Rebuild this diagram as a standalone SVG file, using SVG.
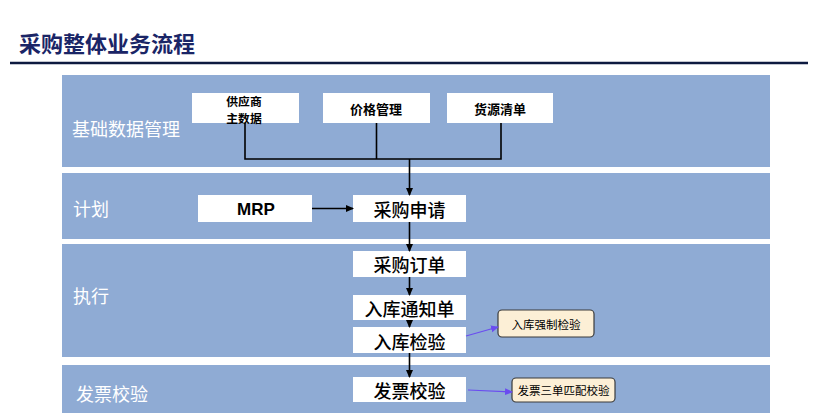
<svg xmlns="http://www.w3.org/2000/svg" width="830" height="420" viewBox="0 0 830 420">
<style>
.band{fill:#8FABD4}
.lbl{font-family:"Noto Sans CJK SC","Noto Sans",sans-serif;font-size:18px;fill:#ffffff}
.box{fill:#ffffff}
.bt{font-family:"Noto Sans CJK SC","Noto Sans",sans-serif;font-size:18px;fill:#000;font-weight:500;text-anchor:middle;dominant-baseline:central}
.st{font-family:"Noto Sans CJK SC","Noto Sans",sans-serif;font-size:13px;fill:#000;font-weight:bold;text-anchor:middle;dominant-baseline:central}
.call{fill:#FCEFD6;stroke:#3a3a3a;stroke-width:1.2}
.ct{font-family:"Noto Sans CJK SC","Noto Sans",sans-serif;font-size:11.5px;fill:#000;text-anchor:middle;dominant-baseline:central}
.ln{fill:none;stroke:#000;stroke-width:1.6}
.pl{fill:none;stroke:#6A4CF0;stroke-width:1.2}
</style>
<defs>
<marker id="ah" markerWidth="8" markerHeight="8" refX="7" refY="4" orient="auto" markerUnits="userSpaceOnUse"><path d="M0,0.5 L8,4 L0,7.5 Z" fill="#000"/></marker>
<marker id="ap" markerWidth="8" markerHeight="8" refX="7" refY="4" orient="auto" markerUnits="userSpaceOnUse"><path d="M0,0.5 L8,4 L0,7.5 Z" fill="#6A4CF0"/></marker>
</defs>
<rect width="830" height="420" fill="#ffffff"/>
<text x="19" y="52" font-family="'Noto Sans CJK SC','Noto Sans',sans-serif" font-size="22" font-weight="bold" fill="#1A2566">采购整体业务流程</text>
<line x1="10" y1="63" x2="808" y2="63" stroke="#0D1A40" stroke-width="2.5"/>

<g id="lanes">
<rect class="band" x="62" y="75" width="708" height="92"/>
<rect class="band" x="62" y="173" width="708" height="66"/>
<rect class="band" x="62" y="244" width="708" height="113"/>
<rect class="band" x="62" y="365" width="708" height="48"/>
<text class="lbl" x="72" y="128" dominant-baseline="central">基础数据管理</text>
<text class="lbl" x="73" y="208" dominant-baseline="central">计划</text>
<text class="lbl" x="73" y="295" dominant-baseline="central">执行</text>
<text class="lbl" x="76" y="393" dominant-baseline="central">发票校验</text>
</g>

<g id="supplier">
<rect class="box" x="192" y="93" width="107" height="30"/>
<text class="st" x="244" y="100" style="font-size:11.8px">供应商<tspan x="244" dy="17">主数据</tspan></text>
</g>
<g id="price">
<rect class="box" x="323" y="93" width="107" height="30"/>
<text class="st" x="376" y="108">价格管理</text>
</g>
<g id="source">
<rect class="box" x="447" y="93" width="106" height="30"/>
<text class="st" x="500" y="108">货源清单</text>
</g>
<g id="mrp">
<rect class="box" x="198" y="195" width="114" height="27"/>
<text x="256" y="209" font-family="'Liberation Sans',Arial,sans-serif" font-size="17" font-weight="bold" text-anchor="middle" dominant-baseline="central">MRP</text>
</g>
<g id="pr">
<rect class="box" x="353" y="195" width="113" height="27"/>
<text class="bt" x="409.5" y="209">采购申请</text>
</g>
<g id="po">
<rect class="box" x="353" y="251" width="113" height="26"/>
<text class="bt" x="409.5" y="264">采购订单</text>
</g>
<g id="notice">
<rect class="box" x="353" y="295" width="113" height="25"/>
<text class="bt" x="409.5" y="307.5">入库通知单</text>
</g>
<g id="inspect">
<rect class="box" x="353" y="327" width="113" height="26"/>
<text class="bt" x="409.5" y="341">入库检验</text>
</g>
<g id="invoice">
<rect class="box" x="353" y="377" width="113" height="25"/>
<text class="bt" x="409.5" y="390">发票校验</text>
</g>
<g id="forced">
<rect class="call" x="498" y="310" width="96" height="27" rx="4"/>
<text class="ct" x="546" y="323.5">入库强制检验</text>
</g>
<g id="match">
<rect class="call" x="512" y="378" width="103" height="24" rx="4"/>
<text class="ct" x="563.5" y="390">发票三单匹配校验</text>
</g>

<g id="connectors">
<path class="ln" d="M245,123 V159 H501 V123 M376.5,123 V159"/>
<line class="ln" x1="409.5" y1="159" x2="409.5" y2="195" marker-end="url(#ah)"/>
<line class="ln" x1="312" y1="208.5" x2="353" y2="208.5" marker-end="url(#ah)"/>
<line class="ln" x1="409.5" y1="222" x2="409.5" y2="251" marker-end="url(#ah)"/>
<line class="ln" x1="409.5" y1="277" x2="409.5" y2="295" marker-end="url(#ah)"/>
<line class="ln" x1="409.5" y1="320" x2="409.5" y2="327" marker-end="url(#ah)"/>
<line class="ln" x1="409.5" y1="353" x2="409.5" y2="377" marker-end="url(#ah)"/>
<line class="pl" x1="466" y1="336" x2="498" y2="327" marker-end="url(#ap)"/>
<line class="pl" x1="468" y1="390" x2="512" y2="392" marker-end="url(#ap)"/>
</g>
</svg>
